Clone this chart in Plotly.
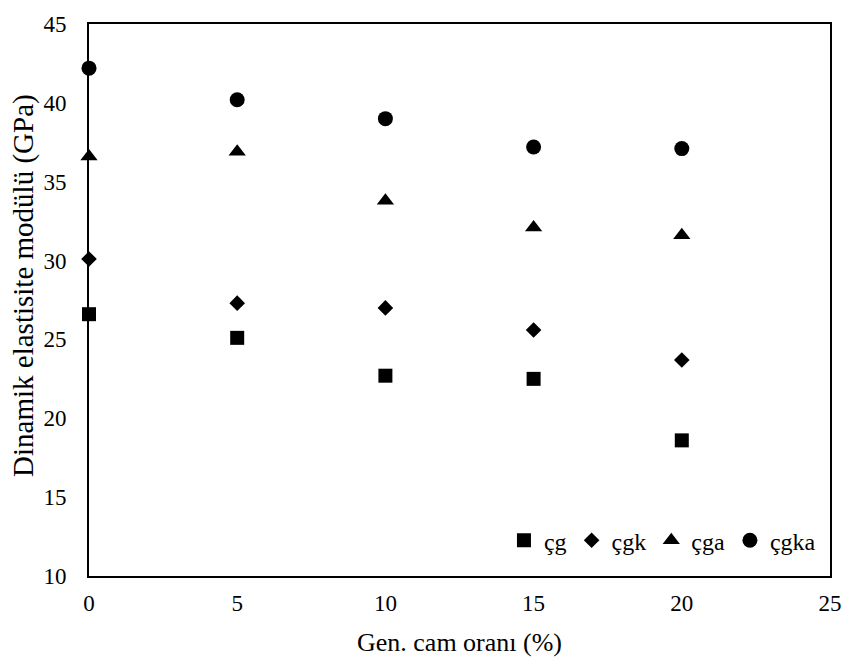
import plotly.graph_objects as go

# Glass replacement ratio (%) and dynamic modulus of elasticity (GPa)
oran = [0, 5, 10, 15, 20]
cg = [26.6, 25.1, 22.7, 22.5, 18.6]
cgk = [30.1, 27.3, 27.0, 25.6, 23.7]
cga = [36.6, 36.9, 33.8, 32.1, 31.6]
cgka = [42.2, 40.2, 39.0, 37.2, 37.1]

x_ticks = [0, 5, 10, 15, 20, 25]
y_ticks = [10, 15, 20, 25, 30, 35, 40, 45]

FONT = "Liberation Serif, Times New Roman, serif"

series = [
    ("çg", cg, "square", 14),
    ("çgk", cgk, "diamond", 12),
    ("çga", cga, "triangle-up", 15),
    ("çgka", cgka, "circle", 15),
]

fig = go.Figure()
for name, vals, sym, size in series:
    fig.add_trace(go.Scatter(
        x=oran, y=vals, mode="markers", name=name,
        marker=dict(symbol=sym, size=size, color="black"),
        cliponaxis=False,
    ))

axis_common = dict(
    showgrid=False, zeroline=False, showline=True, linecolor="black",
    linewidth=2, mirror=True, ticks="", tickfont=dict(family=FONT, size=23, color="black"),
)

fig.update_layout(
    width=854, height=664,
    margin=dict(l=89, r=15, t=16, b=86),
    paper_bgcolor="white", plot_bgcolor="white",
    font=dict(family=FONT, size=23, color="black"),
    showlegend=True,
    legend=dict(
        orientation="h", x=0.56, y=0.064, xanchor="left", yanchor="middle",
        bgcolor="rgba(0,0,0,0)", font=dict(family=FONT, size=24, color="black"),
        itemwidth=30,
    ),
    xaxis=dict(
        range=[0, 25], tickvals=x_ticks, ticklabelstandoff=5,
        title=dict(text="Gen. cam oranı (%)", font=dict(family=FONT, size=26, color="black"), standoff=18),
        **axis_common,
    ),
    yaxis=dict(range=[10, 45], tickvals=y_ticks, ticklabelstandoff=16, **axis_common),
    annotations=[dict(
        text="Dinamik elastisite modülü (GPa)", textangle=-90,
        xref="paper", yref="paper", x=-0.0893, y=0.527,
        xanchor="center", yanchor="middle", showarrow=False,
        font=dict(family=FONT, size=29, color="black"),
    )],
)

fig.write_html("out.html")
